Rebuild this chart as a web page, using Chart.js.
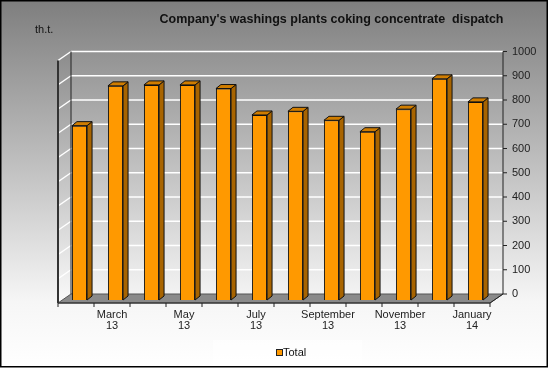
<!DOCTYPE html>
<html>
<head>
<meta charset="utf-8">
<script src="https://cdn.jsdelivr.net/npm/chart.js@4.4.0/dist/chart.umd.min.js"></script>
<style>
  html, body { margin: 0; padding: 0; background: #fff; }
  #wrap { width: 548px; height: 368px; }
</style>
</head>
<body>
<div id="wrap"><canvas id="chart" width="548" height="368"></canvas></div>
<script>
const months = ["February 13", "March 13", "April 13", "May 13", "June 13", "July 13",
  "August 13", "September 13", "October 13", "November 13", "December 13", "January 14"];
const totals = [719, 883, 887, 887, 872, 763, 778, 741, 694, 787, 912, 817];
const yMin = 0;
const yMax = 1000;
const yStep = 100;

// 3d look: back wall is shifted from the chart area, bars get a side and a top
const wallDx = 9.5, wallDy = -6;
const frontDx = -3.5, frontDy = 3;
const barDx = 5, barDy = -4;

const threeD = {
  id: "threeD",
  beforeDraw(chart) {
    const ctx = chart.ctx;
    const g = ctx.createLinearGradient(0, 0, 0, chart.height);
    g.addColorStop(0, "#7e7e7e");
    g.addColorStop(0.82, "#f6f6f6");
    g.addColorStop(1, "#ffffff");
    ctx.save();
    ctx.fillStyle = g;
    ctx.fillRect(0, 0, chart.width, chart.height);
    // legend panel
    ctx.fillStyle = "rgba(255,255,255,0.6)";
    ctx.fillRect(213, 340, 149, 26);
    ctx.restore();
  },
  beforeDatasetsDraw(chart) {
    const ctx = chart.ctx;
    const a = chart.chartArea;
    const y = chart.scales.y;
    const fl = a.left + frontDx, fr = a.right + frontDx, fb = a.bottom + frontDy;
    const bl = a.left + wallDx, br = a.right + wallDx, bb = a.bottom + wallDy;
    const bt = a.top + wallDy;
    ctx.save();
    // left wall
    const lw = ctx.createLinearGradient(0, bt, 0, fb);
    lw.addColorStop(0, "#8c8c8c");
    lw.addColorStop(1, "#fafafa");
    ctx.fillStyle = lw;
    ctx.beginPath();
    ctx.moveTo(fl, bt + (fb - bb));
    ctx.lineTo(bl, bt);
    ctx.lineTo(bl, bb);
    ctx.lineTo(fl, fb);
    ctx.closePath();
    ctx.fill();
    // floor
    ctx.fillStyle = "#8a8a8a";
    ctx.beginPath();
    ctx.moveTo(fl, fb);
    ctx.lineTo(bl, bb);
    ctx.lineTo(br, bb);
    ctx.lineTo(fr, fb);
    ctx.closePath();
    ctx.fill();
    ctx.strokeStyle = "#555";
    ctx.lineWidth = 1;
    ctx.stroke();
    // grid lines on back wall and left wall
    ctx.strokeStyle = "#ffffff";
    ctx.lineWidth = 1.5;
    for (let v = yMin + yStep; v <= yMax; v += yStep) {
      const py = y.getPixelForValue(v) + wallDy;
      ctx.beginPath();
      ctx.moveTo(bl, py);
      ctx.lineTo(br, py);
      ctx.stroke();
      ctx.beginPath();
      ctx.moveTo(fl, py + (fb - bb));
      ctx.lineTo(bl, py);
      ctx.stroke();
    }
    // axis lines
    ctx.strokeStyle = "#222";
    ctx.lineWidth = 1;
    ctx.beginPath();
    ctx.moveTo(br, bt);
    ctx.lineTo(br, bb);
    ctx.moveTo(bl, bt);
    ctx.lineTo(bl, bb);
    ctx.moveTo(fl, fb);
    ctx.lineTo(fr, fb);
    ctx.lineTo(br, bb);
    ctx.stroke();
    ctx.strokeStyle = "#333";
    ctx.lineWidth = 2;
    ctx.beginPath();
    ctx.moveTo(fl, bt + (fb - bb));
    ctx.lineTo(fl, fb);
    ctx.stroke();
    ctx.lineWidth = 1;
    ctx.strokeStyle = "#222";
    ctx.beginPath();
    for (let v = yMin; v <= yMax; v += yStep) {
      const py = y.getPixelForValue(v) + wallDy;
      ctx.moveTo(br, py);
      ctx.lineTo(br + 4, py);
    }
    const n = months.length;
    for (let i = 0; i <= n; i++) {
      const px = fl + (fr - fl) * i / n;
      ctx.moveTo(px, fb);
      ctx.lineTo(px, fb + 4);
    }
    ctx.stroke();
    ctx.restore();
  },
  afterDatasetsDraw(chart) {
    const ctx = chart.ctx;
    ctx.save();
    ctx.strokeStyle = "#111";
    ctx.lineWidth = 1;
    chart.getDatasetMeta(0).data.forEach(function (bar) {
      const l = bar.x - bar.width / 2, r = bar.x + bar.width / 2;
      ctx.fillStyle = "#a86400";
      ctx.beginPath();
      ctx.moveTo(r, bar.y);
      ctx.lineTo(r + barDx, bar.y + barDy);
      ctx.lineTo(r + barDx, bar.base + barDy);
      ctx.lineTo(r, bar.base);
      ctx.closePath();
      ctx.fill();
      ctx.stroke();
      ctx.fillStyle = "#d07d00";
      ctx.beginPath();
      ctx.moveTo(l, bar.y);
      ctx.lineTo(l + barDx, bar.y + barDy);
      ctx.lineTo(r + barDx, bar.y + barDy);
      ctx.lineTo(r, bar.y);
      ctx.closePath();
      ctx.fill();
      ctx.stroke();
    });
    ctx.restore();
  },
  afterDraw(chart) {
    const ctx = chart.ctx;
    ctx.save();
    ctx.fillStyle = "#111";
    ctx.textBaseline = "middle";
    ctx.font = "bold 12.5px 'Liberation Sans', Arial, sans-serif";
    ctx.textAlign = "center";
    ctx.fillText("Company's washings plants coking concentrate  dispatch", 331.5, 19.5);
    ctx.font = "11px 'Liberation Sans', Arial, sans-serif";
    ctx.textAlign = "left";
    ctx.fillText("th.t.", 35, 29.5);
    // legend
    ctx.fillStyle = "#ff9900";
    ctx.fillRect(276.5, 349.5, 6, 6);
    ctx.strokeStyle = "#222";
    ctx.strokeRect(276.5, 349.5, 6, 6);
    ctx.fillStyle = "#111";
    ctx.fillText("Total", 283, 352.5);
    // border
    ctx.strokeStyle = "#000";
    ctx.lineWidth = 1.5;
    ctx.strokeRect(0.75, 0.75, chart.width - 1.5, 366);
    ctx.restore();
  }
};

new Chart(document.getElementById("chart"), {
  type: "bar",
  data: {
    labels: months,
    datasets: [
      {
        label: "Total",
        data: totals,
        backgroundColor: "#ff9900",
        borderColor: "#111",
        borderWidth: 1,
        barPercentage: 0.42,
        categoryPercentage: 1,
      },
    ],
  },
  options: {
    responsive: false,
    animation: false,
    layout: { padding: { left: 61.5, right: 0, top: 57.5, bottom: 20 } },
    plugins: {
      legend: { display: false },
      title: { display: false },
      tooltip: { enabled: false },
    },
    scales: {
      x: {
        grid: { display: false, drawTicks: false },
        border: { display: false },
        ticks: {
          autoSkip: false,
          maxRotation: 0,
          padding: 9,
          labelOffset: -3.5,
          color: "#222",
          font: { family: "'Liberation Sans', Arial, sans-serif", size: 11, lineHeight: 1.05 },
          callback: function (value, index) {
            return index % 2 === 1 ? months[index].split(" ") : "";
          },
        },
        afterFit: function (scale) { scale.height = 48; },
      },
      y: {
        position: "right",
        min: yMin,
        max: yMax,
        grid: { display: false, drawTicks: false },
        border: { display: false },
        ticks: {
          stepSize: yStep,
          padding: 18.5,
          labelOffset: -6,
          color: "#222",
          font: { family: "'Liberation Sans', Arial, sans-serif", size: 11 },
          callback: function (value) { return String(value); },
        },
        afterFit: function (scale) { scale.width = 54.5; },
      },
    },
  },
  plugins: [threeD],
});
</script>
</body>
</html>
